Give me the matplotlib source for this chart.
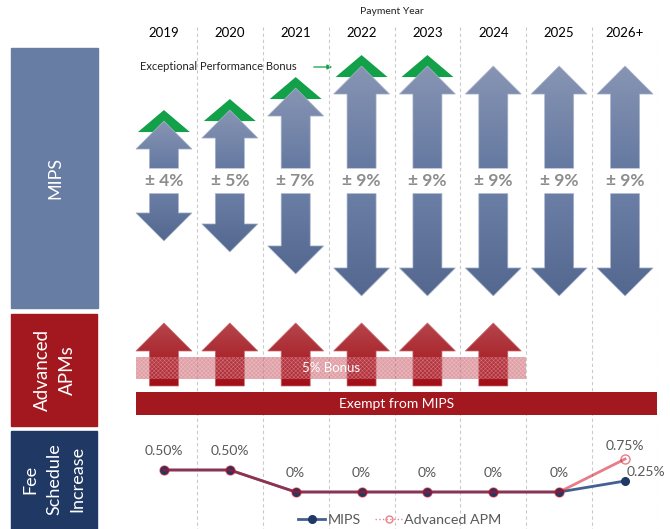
import numpy as np
import matplotlib
matplotlib.use("Agg")
import matplotlib.pyplot as plt
from matplotlib.patches import Polygon, Rectangle
from matplotlib.colors import LinearSegmentedColormap
from matplotlib.lines import Line2D

plt.rcParams['font.family'] = ['Lato', 'DejaVu Sans']
plt.rcParams['hatch.linewidth'] = 0.4

##### Data #####
years = ['2019', '2020', '2021', '2022', '2023', '2024', '2025', '2026+']
mips_adjustment = [4, 5, 7, 9, 9, 9, 9, 9]   # max +/- MIPS payment adjustment (%)
exceptional_bonus = ['2019', '2020', '2021', '2022', '2023']
apm_bonus_years = ['2019', '2020', '2021', '2022', '2023', '2024']
apm_bonus_pct = 5
fee_mips = [0.5, 0.5, 0, 0, 0, 0, 0, 0.25]
fee_apm = [0.5, 0.5, 0, 0, 0, 0, 0, 0.75]

##### Layout helpers #####
W, H = 670, 529
fig = plt.figure(figsize=(W / 100, H / 100), dpi=100)
fig.patch.set_facecolor('white')


def px_axes(x0, y0, x1, y1, z=1):
    ax = fig.add_axes([x0 / W, 1 - y1 / H, (x1 - x0) / W, (y1 - y0) / H], zorder=z)
    ax.set_facecolor('none')
    ax.axis('off')
    return ax


def gradient_fill(ax, verts, top, bottom, edge, z=2):
    patch = Polygon(verts, closed=True, facecolor='none', edgecolor=edge, lw=0.5, zorder=z + 0.1)
    ax.add_patch(patch)
    vx = [v[0] for v in verts]
    vy = [v[1] for v in verts]
    cmap = LinearSegmentedColormap.from_list('grad', [bottom, top])
    im = ax.imshow(np.linspace(0, 1, 128).reshape(-1, 1),
                   extent=[min(vx), max(vx), min(vy), max(vy)],
                   origin='lower', cmap=cmap, aspect='auto', zorder=z,
                   interpolation='bilinear')
    im.set_clip_path(patch)


COL_L, COL_R = 131, 658            # pixel span of the year columns
PXX = (COL_R - COL_L) / len(years)  # pixels per column
xs = np.arange(len(years))
sx, hx = 14.5 / PXX, 28 / PXX       # shaft / head half widths

##### Background: label boxes, titles #####
deco = px_axes(0, 0, W, H, z=0)
deco.set_xlim(0, W)
deco.set_ylim(H, 0)

deco.add_patch(Rectangle((11, 48), 87, 260, color='#687DA3'))
deco.text(55, 178, 'MIPS', rotation=90, ha='center', va='center', color='white', fontsize=13)
deco.add_patch(Rectangle((11, 314), 86, 112, color='#A3181E'))
deco.text(55, 370, 'Advanced\nAPMs', rotation=90, ha='center', va='center', color='white',
          fontsize=13.5, linespacing=1.6)
deco.add_patch(Rectangle((11, 431), 86, 100, color='#1F3864'))
deco.text(54, 479, 'Fee\nSchedule\nIncrease', rotation=90, ha='center', va='center',
          color='white', fontsize=13, linespacing=1.6)

deco.text(392, 11, 'Payment Year', ha='center', va='center', fontsize=7.5, color='#222222')
deco.text(140, 66, 'Exceptional Performance Bonus', ha='left', va='center', fontsize=8,
          color='#222222')
deco.annotate('', xy=(335, 67), xytext=(311, 67),
              arrowprops=dict(arrowstyle='-|>', color='#12A049', lw=0.9, mutation_scale=7))

# column separators and year headers
grid = px_axes(COL_L, 0, COL_R, H, z=0.5)
grid.set_xlim(-0.5, len(years) - 0.5)
grid.set_ylim(H, 0)
grid.vlines(xs + 0.5, 27, H, colors='#CACACA', lw=0.8, linestyles=(0, (3, 2.5)))
for x, year in zip(xs, years):
    grid.text(x, 33, year, ha='center', va='center', fontsize=9.5, color='black')

##### MIPS arrows #####
mips_ax = px_axes(COL_L, 40, COL_R, 312, z=2)
PXY = 11        # pixels per percentage point
hh = 28 / PXY   # arrow head height
gap = 1.15      # half height of the label band
for x, year, p in zip(xs, years, mips_adjustment):
    tip = p + 1.45
    up = [(x - sx, gap), (x - sx, tip - hh), (x - hx, tip - hh), (x, tip),
          (x + hx, tip - hh), (x + sx, tip - hh), (x + sx, gap)]
    down = [(vx, -vy) for vx, vy in up]
    gradient_fill(mips_ax, up, '#8895B4', '#6579A1', '#A9B4CB')
    gradient_fill(mips_ax, down, '#6A7EA6', '#53678F', '#A9B4CB')
    if year in exceptional_bonus:
        gx, gh = 26 / PXX, 22 / PXY
        mips_ax.add_patch(Polygon([(x - gx, tip + 1 - gh), (x, tip + 1), (x + gx, tip + 1 - gh)],
                                  closed=True, facecolor='#12A049', edgecolor='none', zorder=1.5))
    mips_ax.text(x, 0, f'± {p}%', ha='center', va='center', fontsize=12.5,
                 fontweight='bold', color='#8C8C8C', zorder=4)
mips_ax.set_xlim(-0.5, len(years) - 0.5)
mips_ax.set_ylim(-(312 - 181) / PXY, (181 - 40) / PXY)

##### Advanced APM arrows, bonus band, exemption bar #####
apm_ax = px_axes(COL_L, 312, COL_R, 428, z=2)
for x, year in zip(xs, years):
    if year in apm_bonus_years:
        verts = [(x - sx, 42), (x - sx, 77), (x - hx, 77), (x, 105),
                 (x + hx, 77), (x + sx, 77), (x + sx, 42)]
        gradient_fill(apm_ax, verts, '#B5454B', '#A20E16', '#C46A70')

b0 = xs[years.index(apm_bonus_years[0])] - 0.42
b1 = xs[years.index(apm_bonus_years[-1])] + 0.5
apm_ax.add_patch(Rectangle((b0, 49), b1 - b0, 22, facecolor=(0.76, 0.28, 0.33, 0.52),
                           edgecolor=(1, 1, 1, 0.3), hatch='xxxxxxxx', lw=0, zorder=3))
apm_ax.text((b0 + b1) / 2, 60, f'{apm_bonus_pct}% Bonus', ha='center', va='center',
            fontsize=9.5, color='white', zorder=4)

e0, e1 = -0.42, len(years) - 0.52
apm_ax.add_patch(Rectangle((e0, 13), e1 - e0, 23, facecolor='#A3181E', edgecolor='none', zorder=2))
apm_ax.text((e0 + e1) / 2, 24.5, 'Exempt from MIPS', ha='center', va='center',
            fontsize=10, color='white', zorder=4)
apm_ax.set_xlim(-0.5, len(years) - 0.5)
apm_ax.set_ylim(0, 116)

##### Fee schedule lines #####
fee_ax = px_axes(COL_L, 431, COL_R, H, z=2)
PXF = 44  # pixels per percentage point
fee_ax.plot(xs, fee_mips, color='#43608F', lw=2, marker='o', ms=5.5,
            mfc='#1F3864', mec='#1F3864', zorder=3)
fee_ax.plot(xs, fee_apm, color='#D3091A', alpha=0.53, lw=2, marker='o', ms=6.5,
            mfc='none', mew=1, zorder=4)


def pct(v):
    return f'{v:.2f}%' if v else '0%'


lbl = dict(textcoords='offset points', ha='center', va='center', fontsize=10, color='#595959')
for x, m, a in zip(xs, fee_mips, fee_apm):
    if m == a:
        fee_ax.annotate(pct(m), (x, m), xytext=(0, 13.5), **lbl)
    else:
        fee_ax.annotate(pct(a), (x, a), xytext=(0, 9.5), **lbl)
        fee_ax.annotate(pct(m), (x, m), xytext=(15, 6.5), **lbl)
fee_ax.set_xlim(-0.5, len(years) - 0.5)
fee_ax.set_ylim(-(H - 492) / PXF, (492 - 431) / PXF)

handles = [
    Line2D([], [], color='#43608F', lw=2, marker='o', ms=5.5, mfc='#1F3864', mec='#1F3864'),
    Line2D([], [], color='#E8828A', lw=1, ls=':', marker='o', ms=5, mfc='none'),
]
fig.legend(handles, ['MIPS', 'Advanced APM'], loc='center', bbox_to_anchor=(400 / W, 1 - 520 / H),
           ncol=2, frameon=False, fontsize=10.3, handlelength=1.9, handletextpad=0.15,
           columnspacing=1.0, labelcolor='#595959')

fig.savefig('out.png', dpi=100)
